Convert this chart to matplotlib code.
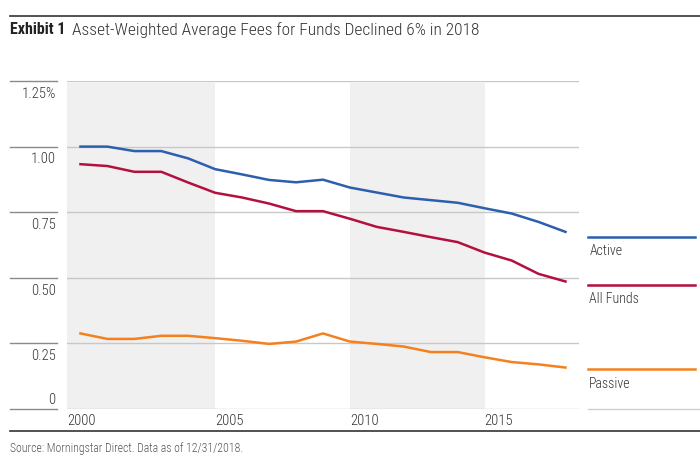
import numpy as np
import matplotlib.pyplot as plt
from matplotlib import font_manager

# fonte estreita, se existir
nomes = {(f.name, f.stretch) for f in font_manager.fontManager.ttflist}
familia = ['DejaVu Sans']
for n in ['Liberation Sans Narrow', 'Roboto Condensed', 'Open Sans Condensed']:
    if any(x[0] == n for x in nomes):
        familia = [n, 'DejaVu Sans']
        break
else:
    if ('DejaVu Sans', 'condensed') in nomes or ('DejaVu Sans', 'semi-condensed') in nomes:
        plt.rcParams['font.stretch'] = 'condensed'
plt.rcParams['font.family'] = familia

# dados (taxas médias ponderadas, %)
anos = np.arange(2000, 2019)
active = [1.00, 1.00, 0.983, 0.983, 0.955, 0.914, 0.894, 0.873, 0.864, 0.874,
          0.844, 0.825, 0.806, 0.796, 0.786, 0.765, 0.745, 0.713, 0.675]
all_funds = [0.933, 0.926, 0.904, 0.904, 0.863, 0.824, 0.806, 0.783, 0.754, 0.754,
             0.725, 0.694, 0.675, 0.655, 0.636, 0.596, 0.566, 0.515, 0.486]
passive = [0.288, 0.267, 0.267, 0.279, 0.279, 0.270, 0.260, 0.248, 0.257, 0.288,
           0.257, 0.248, 0.238, 0.217, 0.217, 0.197, 0.179, 0.170, 0.158]

y_ticks = [0, 0.25, 0.50, 0.75, 1.00, 1.25]
y_labels = ["0", "0.25", "0.50", "0.75", "1.00", "1.25%"]
x_ticks = [1999.5, 2005, 2010, 2015]
x_labels = ["2000", "2005", "2010", "2015"]
faixas = [(1999.5, 2005), (2010, 2015)]

series = [("Active", active, "#2c5fad", 0.656),
          ("All Funds", all_funds, "#b3103f", 0.474),
          ("Passive", passive, "#f5801f", 0.151)]

peso = "light"

fig = plt.figure(figsize=(7, 4.6), dpi=100)
ax = fig.add_axes([0.0957, 0.1087, 0.7314, 0.713])

# faixas cinzas
for a, b in faixas:
    ax.axvspan(a, b, ymin=0, ymax=0.995, color="#f0f0f0", lw=0, zorder=0)

# linhas de grade + marcas à esquerda
for v in y_ticks:
    ax.axhline(v, color="#c8c8c8", lw=1, zorder=1)
    ax.plot([-0.111, -0.02], [v, v], transform=ax.get_yaxis_transform(),
            color="#8a8a8a", lw=1, clip_on=False)

for i, v in enumerate(y_ticks):
    if v == 0:
        ax.text(-0.022, v + 0.01, y_labels[i], transform=ax.get_yaxis_transform(),
                ha="right", va="bottom", fontsize=10.5, color="#333333", fontweight=peso)
    else:
        ax.text(-0.022, v - 0.018, y_labels[i], transform=ax.get_yaxis_transform(),
                ha="right", va="top", fontsize=10.5, color="#333333", fontweight=peso)

for nome, valores, cor, pos in series:
    ax.plot(anos, valores, color=cor, lw=1.8, zorder=3, solid_joinstyle="round")
    # legenda do lado direito
    ax.plot([1.018, 1.227], [pos, pos], transform=ax.get_yaxis_transform(),
            color=cor, lw=1.8, clip_on=False)
    ax.text(1.02, pos - 0.025, nome, transform=ax.get_yaxis_transform(),
            ha="left", va="top", fontsize=10, color="#333333", fontweight=peso)

ax.plot([1.018, 1.236], [0, 0], transform=ax.get_yaxis_transform(),
        color="#d0d0d0", lw=1, clip_on=False)

ax.set_xlim(1999.5, 2018.5)
ax.set_ylim(0, 1.25)
ax.set_yticks([])
ax.set_xticks(x_ticks)
ax.set_xticklabels(x_labels, ha="left", fontsize=10.5, color="#333333", fontweight=peso)
ax.tick_params(axis="x", length=0, pad=3)
for s in ax.spines.values():
    s.set_visible(False)

# título e rodapé
fig.add_artist(plt.Line2D([10/700, 1], [1 - 17/460, 1 - 17/460], color="#333333", lw=1.2))
fig.add_artist(plt.Line2D([10/700, 1], [1 - 432/460, 1 - 432/460], color="#333333", lw=1.2))
t1 = fig.text(10/700, 1 - 30/460, "Exhibit 1", fontsize=11.5, fontweight="bold",
              color="#222222", va="center")
fig.canvas.draw()
bb = t1.get_window_extent()
fig.text((bb.x1 + 6) / 700, 1 - 30/460,
         "Asset-Weighted Average Fees for Funds Declined 6% in 2018",
         fontsize=12.5, color="#333333", va="center", fontweight=peso)
fig.text(10/700, 1 - 449/460, "Source: Morningstar Direct. Data as of 12/31/2018.",
         fontsize=8.5, color="#555555", va="center", fontweight=peso)

fig.savefig("out.png", dpi=100)
